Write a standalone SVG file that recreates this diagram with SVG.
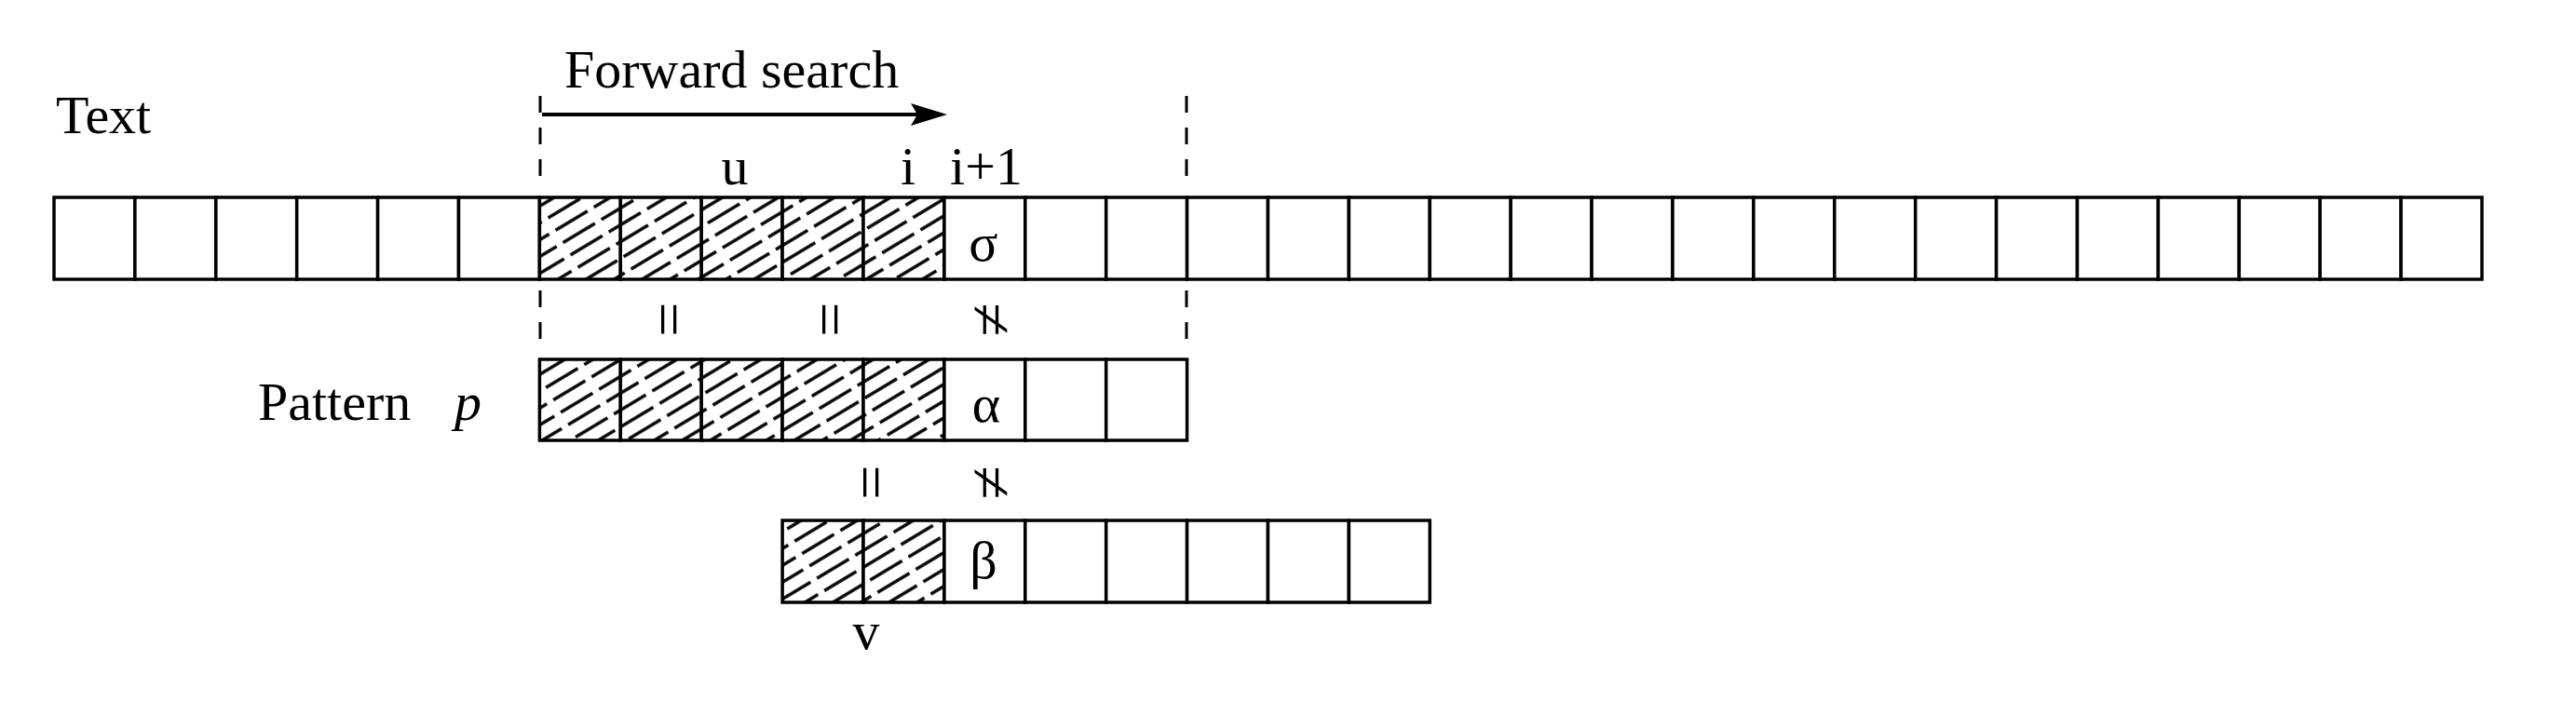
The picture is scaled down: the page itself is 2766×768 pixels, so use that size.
<svg xmlns="http://www.w3.org/2000/svg" width="2766" height="768" viewBox="0 0 2766 768">
<style>
  .lbl { font-family: "Liberation Serif", "Times New Roman", serif; font-size: 58px; fill: #000; }
  .sym { font-family: "Liberation Serif", "Times New Roman", serif; font-size: 58px; fill: #000; text-anchor: middle; }
  .rel { font-family: "Liberation Serif", "Times New Roman", serif; font-size: 66px; fill: #000; text-anchor: middle; dominant-baseline: middle; }
  .cell { fill: #fff; stroke: #000; stroke-width: 3.5; }
  .hat { fill: url(#hatch); stroke: #000; stroke-width: 3.5; }
  .guide { stroke: #000; stroke-width: 3; stroke-dasharray: 18 16; fill: none; }
</style>
<defs>
  <pattern id="hatch" patternUnits="userSpaceOnUse" width="48" height="15.5" patternTransform="rotate(-31)">
    <rect width="48" height="15.5" fill="#fff"/>
    <line x1="0" y1="7.75" x2="48" y2="7.75" stroke="#000" stroke-width="3.4" stroke-dasharray="40 8"/>
  </pattern>
</defs>
<rect width="2766" height="768" fill="#fff"/>

<g id="guides">
  <line class="guide" x1="580" y1="103" x2="580" y2="190"/>
  <line class="guide" x1="580" y1="312" x2="580" y2="364"/>
  <line class="guide" x1="1274" y1="103" x2="1274" y2="190"/>
  <line class="guide" x1="1274" y1="312" x2="1274" y2="364"/>
</g>

<g id="connectors">
  <line x1="582" y1="123" x2="990" y2="123" stroke="#000" stroke-width="4"/>
  <polygon points="1017,123 978,111 985,123 978,135" fill="#000"/>
</g>

<g id="label-text"><text class="lbl" x="60" y="143">Text</text></g>
<g id="label-forward"><text class="lbl" x="606" y="94">Forward search</text></g>
<g id="label-u"><text class="sym" x="789" y="198">u</text></g>
<g id="label-i"><text class="sym" x="975" y="198">i</text></g>
<g id="label-i1"><text class="sym" x="1059" y="198">i+1</text></g>

<g id="text-row">
  <rect class="cell" x="58" y="212" width="86.9" height="88"/>
  <rect class="cell" x="144.9" y="212" width="86.9" height="88"/>
  <rect class="cell" x="231.8" y="212" width="86.9" height="88"/>
  <rect class="cell" x="318.7" y="212" width="86.9" height="88"/>
  <rect class="cell" x="405.6" y="212" width="86.9" height="88"/>
  <rect class="cell" x="492.5" y="212" width="86.9" height="88"/>
  <rect class="hat" x="579.4" y="212" width="86.9" height="88"/>
  <rect class="hat" x="666.3" y="212" width="86.9" height="88"/>
  <rect class="hat" x="753.2" y="212" width="86.9" height="88"/>
  <rect class="hat" x="840.1" y="212" width="86.9" height="88"/>
  <rect class="hat" x="927" y="212" width="86.9" height="88"/>
  <rect class="cell" x="1013.9" y="212" width="86.9" height="88"/>
  <rect class="cell" x="1100.8" y="212" width="86.9" height="88"/>
  <rect class="cell" x="1187.7" y="212" width="86.9" height="88"/>
  <rect class="cell" x="1274.6" y="212" width="86.9" height="88"/>
  <rect class="cell" x="1361.5" y="212" width="86.9" height="88"/>
  <rect class="cell" x="1448.4" y="212" width="86.9" height="88"/>
  <rect class="cell" x="1535.3" y="212" width="86.9" height="88"/>
  <rect class="cell" x="1622.2" y="212" width="86.9" height="88"/>
  <rect class="cell" x="1709.1" y="212" width="86.9" height="88"/>
  <rect class="cell" x="1796" y="212" width="86.9" height="88"/>
  <rect class="cell" x="1882.9" y="212" width="86.9" height="88"/>
  <rect class="cell" x="1969.8" y="212" width="86.9" height="88"/>
  <rect class="cell" x="2056.7" y="212" width="86.9" height="88"/>
  <rect class="cell" x="2143.6" y="212" width="86.9" height="88"/>
  <rect class="cell" x="2230.5" y="212" width="86.9" height="88"/>
  <rect class="cell" x="2317.4" y="212" width="86.9" height="88"/>
  <rect class="cell" x="2404.3" y="212" width="86.9" height="88"/>
  <rect class="cell" x="2491.2" y="212" width="86.9" height="88"/>
  <rect class="cell" x="2578.1" y="212" width="86.9" height="88"/>
  <text class="sym" x="1056" y="280" font-size="60">σ</text>
</g>

<g id="relations-1">
  <text class="rel" transform="translate(711,343) rotate(90)">=</text>
  <text class="rel" transform="translate(884,343) rotate(90)">=</text>
  <text class="rel" transform="translate(1057,343) rotate(90)">≠</text>
</g>

<g id="label-pattern">
  <text class="lbl" x="277" y="451">Pattern</text>
  <text class="lbl" x="488" y="451" font-style="italic">p</text>
</g>

<g id="pattern-row">
  <rect class="hat" x="579.4" y="386" width="86.9" height="87"/>
  <rect class="hat" x="666.3" y="386" width="86.9" height="87"/>
  <rect class="hat" x="753.2" y="386" width="86.9" height="87"/>
  <rect class="hat" x="840.1" y="386" width="86.9" height="87"/>
  <rect class="hat" x="927" y="386" width="86.9" height="87"/>
  <rect class="cell" x="1013.9" y="386" width="86.9" height="87"/>
  <rect class="cell" x="1100.8" y="386" width="86.9" height="87"/>
  <rect class="cell" x="1187.7" y="386" width="86.9" height="87"/>
  <text class="sym" x="1059" y="453" font-size="60">α</text>
</g>

<g id="relations-2">
  <text class="rel" transform="translate(928,518) rotate(90)">=</text>
  <text class="rel" transform="translate(1057,518) rotate(90)">≠</text>
</g>

<g id="shift-row">
  <rect class="hat" x="840.1" y="559" width="86.9" height="88"/>
  <rect class="hat" x="927" y="559" width="86.9" height="88"/>
  <rect class="cell" x="1013.9" y="559" width="86.9" height="88"/>
  <rect class="cell" x="1100.8" y="559" width="86.9" height="88"/>
  <rect class="cell" x="1187.7" y="559" width="86.9" height="88"/>
  <rect class="cell" x="1274.6" y="559" width="86.9" height="88"/>
  <rect class="cell" x="1361.5" y="559" width="86.9" height="88"/>
  <rect class="cell" x="1448.4" y="559" width="86.9" height="88"/>
  <text class="sym" x="1056" y="621" font-size="58">β</text>
</g>

<g id="label-v"><text class="sym" x="930" y="697">v</text></g>
</svg>
